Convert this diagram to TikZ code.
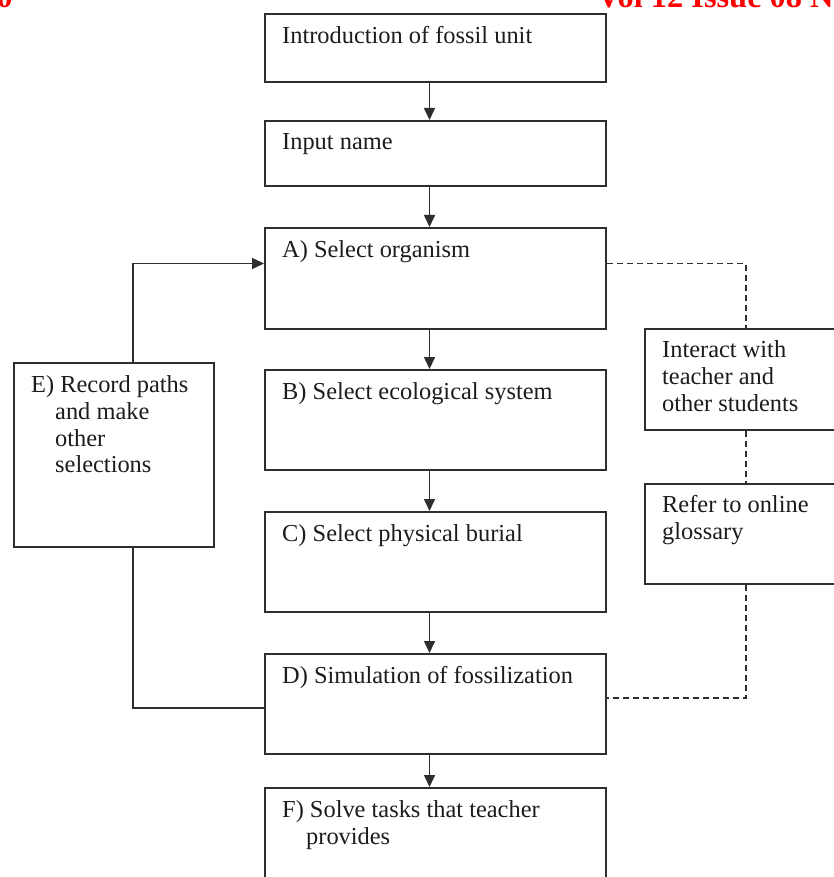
\documentclass[tikz,border=0pt]{standalone}
\usepackage{fontspec}
\setmainfont{Liberation Serif}
\usepackage{xcolor}
\usepackage{tikz}
\usetikzlibrary{arrows.meta,positioning}
\definecolor{inkdark}{HTML}{2E2E2E}
\definecolor{inktext}{HTML}{1C1C1C}
\definecolor{hdrred}{HTML}{FF0000}

\begin{document}
\begin{tikzpicture}[x=1pt, y=-1pt,
  box/.style={draw=inkdark, line width=2pt, minimum width=341pt, inner sep=0pt},
  sidebox/.style={draw=inkdark, line width=2pt, inner sep=0pt, anchor=north west},
  txt/.style={anchor=north west, align=left, inner sep=0pt, color=inktext,
              font=\fontsize{24.4}{26.7}\selectfont},
  hdr/.style={color=hdrred, inner sep=0pt, font=\fontsize{32.4}{36}\selectfont\bfseries},
  arr/.style={-{Triangle[length=12pt,width=11pt]}, line width=1.6pt, color=inkdark},
  link/.style={line width=1.6pt, color=inkdark},
  dashlink/.style={line width=1.6pt, color=inkdark, dash pattern=on 6pt off 4pt}]
\useasboundingbox (0,0) rectangle (833,877);
% page header, cut off
\node[hdr, anchor=base east] (year) at (13,8) {0};
\node[hdr, anchor=base west] (issue) at (597,8) {Vol 12 Issue 08 N};
% main column
\node[box, minimum height=68pt, anchor=north west] (intro) at (264,13) {};
\node[box, minimum height=65pt, below=37pt of intro] (input) {};
\node[box, minimum height=101pt, below=40pt of input] (selA) {};
\node[box, minimum height=100pt, below=39pt of selA] (selB) {};
\node[box, minimum height=100pt, below=40pt of selB] (selC) {};
\node[box, minimum height=100pt, below=40pt of selC] (selD) {};
\node[box, minimum height=100pt, below=32pt of selD] (solveF) {};
% side boxes
\node[sidebox, minimum width=200pt, minimum height=184pt] (recE) at (13,362) {};
\node[sidebox, minimum width=202pt, minimum height=101pt] (interact) at (644,328) {};
\node[sidebox, minimum width=202pt, minimum height=100pt, below=52pt of interact] (refer) {};
% texts
\node[txt] (introT) at ([xshift=18pt,yshift=-13.5pt]intro.north west) {Introduction of fossil unit};
\node[txt] (inputT) at ([xshift=18pt,yshift=-13.5pt]input.north west) {Input name};
\node[txt] (selAT) at ([xshift=18pt,yshift=-13.5pt]selA.north west) {A) Select organism};
\node[txt] (selBT) at ([xshift=18pt,yshift=-13.5pt]selB.north west) {B) Select ecological system};
\node[txt] (selCT) at ([xshift=18pt,yshift=-13.5pt]selC.north west) {C) Select physical burial};
\node[txt] (selDT) at ([xshift=18pt,yshift=-13.5pt]selD.north west) {D) Simulation of fossilization};
\node[txt] (solveFT) at ([xshift=18pt,yshift=-13.5pt]solveF.north west)
  {F) Solve tasks that teacher\\\hspace*{24pt}provides};
\node[txt] (recET) at ([xshift=18pt,yshift=-13.5pt]recE.north west)
  {E) Record paths\\\hspace*{24pt}and make\\\hspace*{24pt}other\\\hspace*{24pt}selections};
\node[txt] (interactT) at ([xshift=18pt,yshift=-12.5pt]interact.north west)
  {Interact with\\teacher and\\other students};
\node[txt] (referT) at ([xshift=18pt,yshift=-12.5pt]refer.north west)
  {Refer to online\\glossary};
% connectors
\foreach \a/\b in {intro/input, input/selA, selA/selB, selB/selC, selC/selD, selD/solveF}
  \draw[arr] ([xshift=-6pt]\a.south) -- ([xshift=-6pt]\b.north);
\draw[arr] ([xshift=19pt]recE.north) |- ([yshift=15pt]selA.west);
\draw[link] ([xshift=19pt]recE.south) |- ([yshift=-4pt]selD.west);
\draw[dashlink] ([yshift=15pt]selA.east) -| (interact.north);
\draw[dashlink] (interact) -- (refer);
\draw[dashlink] (refer.south) |- ([yshift=6pt]selD.east);
\end{tikzpicture}
\end{document}
